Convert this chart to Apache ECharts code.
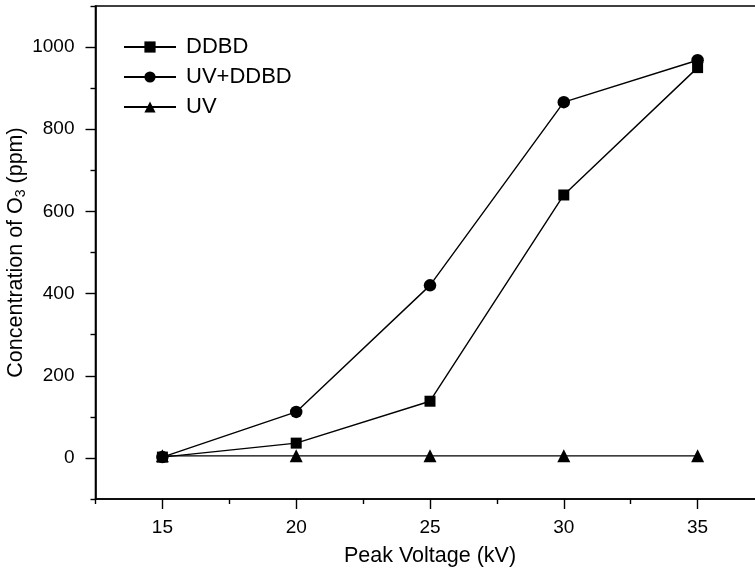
<!DOCTYPE html>
<html>
<head>
<meta charset="utf-8">
<script src="https://cdn.jsdelivr.net/npm/echarts@6/dist/echarts.min.js"></script>
<style>
  html, body { margin: 0; padding: 0; background: #fff; }
  #chart { width: 755px; height: 568px; }
</style>
</head>
<body>
<div id="chart"></div>
<script>
  // data
  var voltages = [15, 20, 25, 30, 35];
  var ddbd = [2, 36, 138, 640, 950];
  var uvDdbd = [2, 112, 420, 866, 968];
  var uv = [5, 5, 5, 5, 5];

  var xMajor = [15, 20, 25, 30, 35];
  var xMinor = [12.5, 17.5, 22.5, 27.5, 32.5, 37.5];
  var yMajor = [0, 200, 400, 600, 800, 1000];
  var yMinor = [-100, 100, 300, 500, 700, 900, 1100];

  function pairs(ys) {
    var out = [];
    for (var i = 0; i < voltages.length; i++) {
      out.push([voltages[i], ys[i]]);
    }
    return out;
  }

  var font = 'Liberation Sans, Arial, sans-serif';
  var chart = echarts.init(document.getElementById('chart'));

  var option = {
    backgroundColor: '#fff',
    animation: false,
    grid: {
      left: 95.5, top: 6, width: 669, bottom: 69,
      show: true, borderColor: '#000', borderWidth: 1.6,
      containLabel: false, outerBoundsMode: 'none'
    },
    legend: {
      orient: 'vertical',
      left: 123, top: 36, padding: 0,
      itemWidth: 52, itemHeight: 14, itemGap: 8,
      textStyle: { fontFamily: font, fontSize: 22, color: '#000', padding: [0, 0, 0, 5] },
      data: ['DDBD', 'UV+DDBD', 'UV']
    },
    xAxis: [
      {
        type: 'value', min: 12.5, max: 37.5,
        name: 'Peak Voltage (kV)', nameLocation: 'middle', nameGap: 46,
        nameTextStyle: { fontFamily: font, fontSize: 21.5, color: '#000' },
        axisLine: { show: true, onZero: false, lineStyle: { color: '#000', width: 1.6 } },
        axisTick: { show: true, customValues: xMajor, length: 10, lineStyle: { color: '#000', width: 1.4 } },
        axisLabel: { customValues: xMajor, margin: 19, fontFamily: font, fontSize: 19, color: '#000' },
        splitLine: { show: false }
      },
      {
        type: 'value', min: 12.5, max: 37.5, position: 'bottom',
        axisLine: { show: false, onZero: false },
        axisTick: { show: true, customValues: xMinor, length: 5, lineStyle: { color: '#000', width: 1.4 } },
        axisLabel: { show: false },
        splitLine: { show: false }
      }
    ],
    yAxis: [
      {
        type: 'value', min: -100, max: 1100,
        name: 'Concentration of O{sub|3} (ppm)', nameLocation: 'middle', nameGap: 67, nameRotate: 90,
        nameMoveOverlap: false,
        nameTextStyle: {
          fontFamily: font, fontSize: 21.5, color: '#000',
          rich: { sub: { fontFamily: font, fontSize: 14, color: '#000', padding: [10, 0, 0, 0] } }
        },
        axisLine: { show: true, onZero: false, lineStyle: { color: '#000', width: 1.6 } },
        axisTick: { show: true, customValues: yMajor, length: 10, lineStyle: { color: '#000', width: 1.4 } },
        axisLabel: {
          customValues: yMajor, margin: 21, fontFamily: font, fontSize: 19, color: '#000',
          formatter: function (v) { return String(v); }
        },
        splitLine: { show: false }
      },
      {
        type: 'value', min: -100, max: 1100, position: 'left',
        axisLine: { show: false, onZero: false },
        axisTick: { show: true, customValues: yMinor, length: 5, lineStyle: { color: '#000', width: 1.4 } },
        axisLabel: { show: false },
        splitLine: { show: false }
      }
    ],
    series: [
      {
        name: 'DDBD', type: 'line', data: pairs(ddbd),
        symbol: 'rect', symbolSize: 11,
        lineStyle: { color: '#000', width: 1.4 }, itemStyle: { color: '#000' }
      },
      {
        name: 'UV+DDBD', type: 'line', data: pairs(uvDdbd),
        symbol: 'circle', symbolSize: 12.5,
        lineStyle: { color: '#000', width: 1.4 }, itemStyle: { color: '#000' }
      },
      {
        name: 'UV', type: 'line', data: pairs(uv),
        symbol: 'triangle', symbolSize: 13,
        lineStyle: { color: '#000', width: 1.4 }, itemStyle: { color: '#000' }
      }
    ]
  };

  chart.setOption(option);
  window.addEventListener('resize', function () {
    chart.resize();
  });
</script>
</body>
</html>
